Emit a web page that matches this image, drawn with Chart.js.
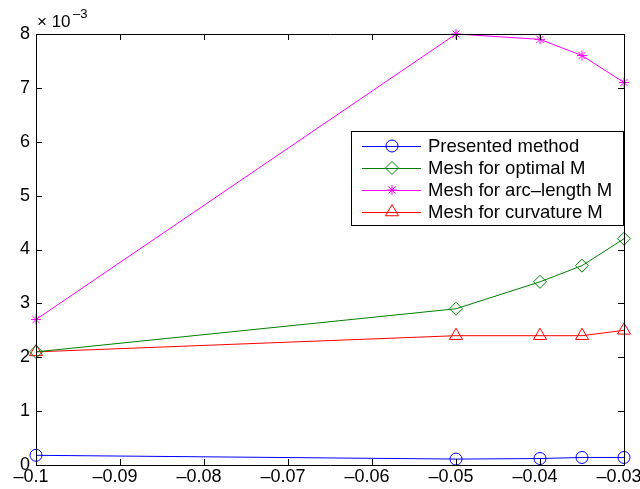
<!DOCTYPE html>
<html>
<head>
<meta charset="utf-8">
<script src="https://cdn.jsdelivr.net/npm/chart.js@4/dist/chart.umd.min.js"></script>
<style>
  html, body { margin: 0; padding: 0; background: #fff; }
  #wrap { width: 640px; height: 489px; }
</style>
</head>
<body>
<div id="wrap"><canvas id="plot" width="640" height="489"></canvas></div>
<script>
// x positions (h values) and the four error series, y in units of 1e-3
const xValues = [-0.1, -0.05, -0.04, -0.035, -0.03];
const presented = [0.18, 0.11, 0.12, 0.14, 0.14];
const optimalM = [2.1, 2.9, 3.4, 3.7, 4.2];
const arcLengthM = [2.7, 8.0, 7.9, 7.6, 7.1];
const curvatureM = [2.1, 2.4, 2.4, 2.4, 2.5];

const seriesNames = ['Presented method', 'Mesh for optimal M', 'Mesh for arc\u2013length M', 'Mesh for curvature M'];
const xTicks = [-0.1, -0.09, -0.08, -0.07, -0.06, -0.05, -0.04, -0.03];
const xTickLabels = ['\u20130.1', '\u20130.09', '\u20130.08', '\u20130.07', '\u20130.06', '\u20130.05', '\u20130.04', '\u20130.03'];
const yTicks = [0, 1, 2, 3, 4, 5, 6, 7, 8];
const yTickLabels = ['0', '1', '2', '3', '4', '5', '6', '7', '8'];

const FONT = 'Liberation Sans, Arial, Helvetica, sans-serif';

function toPoints(ys) {
    return xValues.map((x, i) => ({ x: x, y: ys[i] }));
}

const styles = [
    { color: '#0000ff', point: 'circle', radius: 6 },
    { color: '#008000', point: 'rectRot', radius: 6.5 },
    { color: '#ff00ff', point: 'star', radius: 5 },
    { color: '#ff0000', point: 'triangle', radius: 7.5 },
];

const allSeries = [presented, optimalM, arcLengthM, curvatureM];

const datasets = allSeries.map((ys, i) => ({
    label: seriesNames[i],
    data: toPoints(ys),
    borderColor: styles[i].color,
    borderWidth: 1,
    pointStyle: styles[i].point,
    pointRadius: styles[i].radius,
    pointBorderColor: styles[i].color,
    pointBackgroundColor: 'rgba(0,0,0,0)',
    pointBorderWidth: 1,
    pointHoverRadius: styles[i].radius,
    fill: false,
    tension: 0,
    clip: false,
}));

// MATLAB-like box with inward ticks, exponent label and boxed legend
const matlabFrame = {
    id: 'matlabFrame',
    afterDraw(chart) {
        const ctx = chart.ctx;
        const area = chart.chartArea;
        const xs = chart.scales.x;
        const ys = chart.scales.y;
        const tick = 6;
        ctx.save();
        ctx.strokeStyle = '#000';
        ctx.lineWidth = 1;
        ctx.beginPath();
        ctx.rect(Math.round(area.left) + 0.5, Math.round(area.top) + 0.5,
            Math.round(area.right - area.left), Math.round(area.bottom - area.top));
        ctx.stroke();

        ctx.beginPath();
        xTicks.forEach(v => {
            const px = Math.round(xs.getPixelForValue(v)) + 0.5;
            ctx.moveTo(px, area.bottom); ctx.lineTo(px, area.bottom - tick);
            ctx.moveTo(px, area.top); ctx.lineTo(px, area.top + tick);
        });
        yTicks.forEach(v => {
            const py = Math.round(ys.getPixelForValue(v)) + 0.5;
            ctx.moveTo(area.left, py); ctx.lineTo(area.left + tick, py);
            ctx.moveTo(area.right, py); ctx.lineTo(area.right - tick, py);
        });
        ctx.stroke();

        // exponent label
        ctx.fillStyle = '#000';
        ctx.textBaseline = 'alphabetic';
        ctx.textAlign = 'left';
        ctx.font = '17px ' + FONT;
        ctx.fillText('\u00d7 10', 37, 27);
        ctx.font = '13px ' + FONT;
        ctx.fillText('\u20133', 73, 18);

        // legend
        const lx = 351, ly = 131, lw = 272, lh = 94;
        ctx.fillStyle = '#fff';
        ctx.fillRect(lx, ly, lw, lh);
        ctx.strokeStyle = '#000';
        ctx.strokeRect(lx + 0.5, ly + 0.5, lw, lh);
        const rowY = [146, 168, 190, 212];
        ctx.font = '18.5px ' + FONT;
        ctx.textBaseline = 'middle';
        seriesNames.forEach((name, i) => {
            const st = styles[i];
            ctx.strokeStyle = st.color;
            ctx.lineWidth = 1;
            ctx.beginPath();
            ctx.moveTo(362, rowY[i] + 0.5);
            ctx.lineTo(421, rowY[i] + 0.5);
            ctx.stroke();
            ctx.fillStyle = 'rgba(0,0,0,0)';
            Chart.helpers.drawPoint(ctx, { pointStyle: st.point, radius: st.radius, borderWidth: 1, rotation: 0 }, 392, rowY[i]);
            ctx.fillStyle = '#000';
            ctx.fillText(name, 428, rowY[i] + 1);
        });
        ctx.restore();
    },
};

new Chart(document.getElementById('plot').getContext('2d'), {
    type: 'line',
    data: { datasets: datasets },
    plugins: [matlabFrame],
    options: {
        responsive: false,
        animation: false,
        events: [],
        layout: { padding: { left: 0, right: 16, top: 34, bottom: 0 } },
        scales: {
            x: {
                type: 'linear',
                min: -0.1,
                max: -0.03,
                afterBuildTicks: (axis) => { axis.ticks = xTicks.map(v => ({ value: v })); },
                afterFit: (axis) => {
                    axis.height = 24;
                    axis.paddingLeft = 0;
                    axis.paddingRight = 0;
                },
                grid: { display: false, drawTicks: false },
                border: { display: false },
                ticks: {
                    color: '#000',
                    padding: 1,
                    labelOffset: -5,
                    maxRotation: 0,
                    autoSkip: false,
                    font: { family: FONT, size: 18 },
                    callback: (v) => xTickLabels[xTicks.findIndex(t => Math.abs(t - v) < 1e-9)],
                },
            },
            y: {
                min: 0,
                max: 8,
                afterBuildTicks: (axis) => { axis.ticks = yTicks.map(v => ({ value: v })); },
                afterFit: (axis) => {
                    axis.width = 36;
                    axis.paddingTop = 0;
                    axis.paddingBottom = 0;
                },
                grid: { display: false, drawTicks: false },
                border: { display: false },
                ticks: {
                    color: '#000',
                    padding: 6,
                    font: { family: FONT, size: 18 },
                    callback: (v) => yTickLabels[yTicks.indexOf(v)],
                },
            },
        },
        plugins: {
            legend: { display: false },
            tooltip: { enabled: false },
        },
    },
});
</script>
</body>
</html>
